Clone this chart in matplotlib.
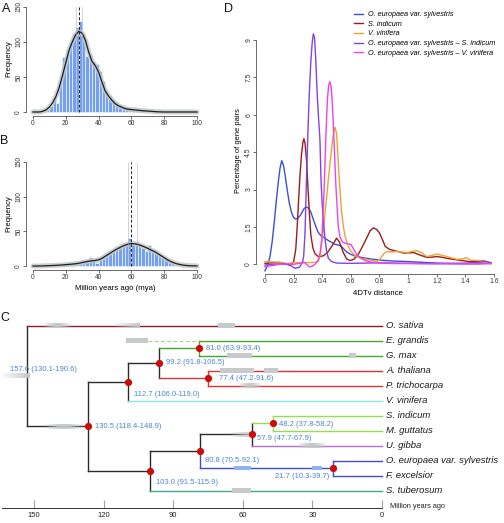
import matplotlib
matplotlib.use("Agg")
import matplotlib.pyplot as plt
import numpy as np
from matplotlib.patches import Rectangle

plt.rcParams.update({
    "font.family": ["Liberation Sans", "DejaVu Sans"],
    "font.size": 5,
    "axes.linewidth": 0.6,
})

# ---------------- data: panels A and B (Ks-based age histograms) ----------------
bin_left = list(range(0, 100, 2))
counts_a = [0, 0, 0, 1, 3, 8, 18, 13, 45, 78,
            88, 100, 111, 121, 130, 112, 80, 82, 72, 68,
            58, 44, 32, 24, 18, 14, 10, 8, 7, 5,
            4, 4, 3, 3, 3, 2, 1, 1, 0, 0,
            0, 0, 0, 0, 0, 0, 0, 0, 0, 0]
counts_b = [0, 0, 0, 0, 1, 1, 1, 2, 2, 3,
            3, 3, 4, 4, 5, 6, 7, 13, 8, 5,
            10, 13, 16, 19, 22, 24, 27, 30, 33, 40,
            33, 35, 30, 26, 21, 30, 22, 19, 16, 13,
            10, 7, 4, 2, 1, 1, 0, 0, 0, 0]
curve_x = list(range(0, 101, 2))
curve_a = [0, 0, 0, 1, 3, 7, 13, 22, 35, 52,
           70, 88, 100, 110, 115, 112, 102, 85, 72, 66,
           57, 43, 30, 23, 17, 12, 9, 7, 5, 4,
           3.5, 3, 2.5, 2, 1.6, 1.3, 1, 0.6, 0.3, 0.1,
           0, 0, 0, 0, 0, 0, 0, 0, 0, 0, 0]
curve_b = [0, 0, 0, 0.2, 0.4, 0.6, 0.8, 1.0, 1.3, 1.6,
           2.0, 2.4, 2.8, 3.3, 4.0, 5.0, 6.0, 7.0, 7.5, 8.0,
           9.0, 11, 14, 17, 20, 23, 25.5, 28, 30, 31.5,
           32.5, 32, 31, 29.5, 27.5, 25.5, 23, 21, 18, 15,
           12, 9, 6.5, 4.5, 3, 2, 1.2, 0.7, 0.4, 0.2, 0.1]
peak_a, ci_a = 27.8, (26.0, 29.7)
peak_b, ci_b = 59.8, (57.7, 63.4)

# ---------------- data: panel D (4DTv distributions) ----------------
d_labels = ["O. europaea var. sylvestris", "S. indicum", "V. vinifera",
            "O. europaea var. sylvestris \u2013 S. indicum",
            "O. europaea var. sylvestris \u2013 V. vinifera"]
d_colors = ["#3a4fd9", "#9e1a1a", "#f2a22e", "#8142e6", "#ec44ec"]
oeu_x = [0, 0.02, 0.035, 0.05, 0.065, 0.08, 0.095, 0.105, 0.117, 0.13,
         0.14, 0.155, 0.17, 0.186, 0.2, 0.215, 0.23, 0.245, 0.26, 0.275,
         0.29, 0.305, 0.32, 0.335, 0.35, 0.37, 0.39, 0.41, 0.43, 0.46,
         0.49, 0.51, 0.53, 0.55, 0.57, 0.6, 0.63, 0.67, 0.71, 0.76,
         0.8, 0.9, 1.0, 1.1, 1.2, 1.3, 1.4, 1.5, 1.55]
oeu_y = [-0.26, 0.0, 0.31, 0.9, 1.7, 2.6, 3.4, 3.85, 4.16, 3.95,
         3.6, 3.0, 2.45, 2.07, 1.88, 1.82, 1.85, 1.95, 2.1, 2.25,
         2.3, 2.25, 2.1, 1.85, 1.6, 1.3, 1.15, 1.08, 1.0, 0.9,
         0.8, 0.78, 0.74, 0.62, 0.5, 0.4, 0.33, 0.28, 0.24, 0.2,
         0.17, 0.13, 0.11, 0.08, 0.05, 0.03, 0.02, 0.02, 0.04]
sind_x = [0, 0.05, 0.1, 0.15, 0.175, 0.2, 0.215, 0.225, 0.235, 0.245,
          0.255, 0.265, 0.272, 0.28, 0.29, 0.3, 0.31, 0.32, 0.335, 0.35,
          0.37, 0.385, 0.41, 0.44, 0.47, 0.5, 0.52, 0.545, 0.57, 0.595,
          0.62, 0.65, 0.68, 0.71, 0.735, 0.757, 0.78, 0.8, 0.82, 0.84,
          0.87, 0.9, 0.94, 0.97, 1.0, 1.04, 1.08, 1.13, 1.17, 1.2,
          1.24, 1.27, 1.34, 1.43, 1.48, 1.53, 1.58]
sind_y = [0.04, 0.06, 0.08, 0.02, -0.03, 0.1, 0.6, 1.5, 2.6, 3.6,
          4.4, 4.9, 5.04, 4.85, 4.2, 3.1, 2.07, 1.2, 0.65, 0.42,
          0.32, 0.31, 0.35, 0.5, 0.75, 1.05, 0.9, 0.5, 0.22, 0.15,
          0.2, 0.38, 0.7, 1.05, 1.35, 1.46, 1.4, 1.26, 1.0, 0.72,
          0.6, 0.55, 0.5, 0.45, 0.46, 0.47, 0.38, 0.28, 0.29, 0.31,
          0.28, 0.24, 0.18, 0.11, 0.12, 0.14, 0.04]
vvin_x = [0, 0.05, 0.1, 0.15, 0.2, 0.25, 0.3, 0.35, 0.373, 0.385,
          0.396, 0.408, 0.42, 0.432, 0.443, 0.455, 0.466, 0.477, 0.489, 0.5,
          0.512, 0.524, 0.536, 0.548, 0.56, 0.577, 0.594, 0.62, 0.64, 0.67,
          0.71, 0.75, 0.78, 0.8, 0.815, 0.835, 0.85, 0.88, 0.92, 0.96,
          0.99, 1.03, 1.06, 1.1, 1.13, 1.17, 1.2, 1.24, 1.27, 1.31,
          1.34, 1.38, 1.41, 1.43, 1.46, 1.5, 1.54, 1.58]
vvin_y = [0.11, 0.1, 0.08, 0.03, 0.06, 0.07, 0.07, 0.08, 0.11, 0.35,
          0.85, 1.4, 2.07, 2.75, 3.42, 4.1, 4.64, 5.2, 5.5, 5.25,
          4.1, 3.0, 2.07, 1.5, 1.12, 0.8, 0.58, 0.4, 0.31, 0.24,
          0.2, 0.15, 0.11, 0.18, 0.31, 0.45, 0.51, 0.5, 0.51, 0.49,
          0.47, 0.52, 0.55, 0.45, 0.31, 0.36, 0.41, 0.36, 0.31, 0.25,
          0.2, 0.22, 0.27, 0.18, 0.16, 0.15, 0.1, 0.04]
oeu_sind_x = [0, 0.05, 0.1, 0.15, 0.18, 0.21, 0.24, 0.26, 0.27, 0.28,
              0.29, 0.3, 0.31, 0.32, 0.33, 0.338, 0.346, 0.355, 0.365, 0.375,
              0.384, 0.392, 0.4, 0.41, 0.42, 0.43, 0.443, 0.466, 0.5, 0.6,
              0.7, 0.8, 0.9, 1.0, 1.1, 1.2, 1.3, 1.4, 1.5, 1.55, 1.58]
oeu_sind_y = [-0.03, 0.0, 0.02, 0.0, -0.05, -0.16, -0.12, 0.05, 0.3, 1.3,
              3.4, 5.3, 6.9, 8.1, 8.9, 9.25, 9.1, 8.2, 6.8, 5.8,
              5.0, 3.3, 2.4, 1.6, 0.99, 0.55, 0.24, 0.11, 0.05, 0.04,
              0.05, 0.06, 0.05, 0.04, 0.04, 0.03, 0.04, 0.05, 0.08, 0.11, 0.06]
oeu_vvin_x = [0, 0.05, 0.1, 0.15, 0.2, 0.25, 0.27, 0.29, 0.31, 0.33,
              0.35, 0.37, 0.385, 0.396, 0.405, 0.413, 0.42, 0.428, 0.436, 0.445,
              0.454, 0.463, 0.471, 0.479, 0.487, 0.495, 0.503, 0.512, 0.524, 0.54,
              0.56, 0.58, 0.6, 0.62, 0.64, 0.67, 0.7, 0.75, 0.8, 0.9,
              1.0, 1.1, 1.2, 1.3, 1.4, 1.5, 1.58]
oeu_vvin_y = [-0.1, -0.05, 0.0, 0.02, 0.0, 0.05, 0.1, 0.0, -0.1, -0.08,
              0.0, 0.15, 0.45, 0.99, 1.9, 3.0, 4.2, 5.5, 6.6, 7.2,
              7.33, 7.1, 6.4, 5.4, 4.3, 3.2, 2.4, 1.5, 1.1, 0.9,
              0.85, 0.82, 0.8, 0.6, 0.4, 0.25, 0.15, 0.08, 0.05, 0.03,
              0.03, 0.02, 0.02, 0.02, 0.02, 0.03, 0.02]

# ---------------- data: panel C (dated species tree) ----------------
tips = ["O. sativa", "E. grandis", "G. max", "A. thaliana", "P. trichocarpa",
        "V. vinifera", "S. indicum", "M. guttatus", "U. gibba",
        "O. europaea var. sylvestris", "F. excelsior", "S. tuberosum"]
node_names = ["root", "n130", "n112", "n99", "n81", "n77",
              "n103", "n80", "n57", "n48", "n21"]
node_age = [157.6, 130.5, 112.7, 99.2, 81.0, 77.4, 103.0, 80.8, 57.9, 48.2, 21.7]
node_lo = [130.1, 118.4, 106.0, 91.8, 63.9, 47.2, 91.5, 70.5, 47.7, 37.8, 10.3]
node_hi = [190.6, 148.9, 119.0, 106.5, 93.4, 91.6, 115.9, 92.1, 67.9, 58.2, 39.7]
children = {
    "root": ["t0", "n130"], "n130": ["n112", "n103"], "n112": ["n99", "t5"],
    "n99": ["n81", "n77"], "n81": ["t1", "t2"], "n77": ["t3", "t4"],
    "n103": ["n80", "t11"], "n80": ["n57", "n21"], "n57": ["n48", "t8"],
    "n48": ["t6", "t7"], "n21": ["t9", "t10"],
}
# gray / blue interval bars drawn on branches: (row, from age, to age, kind)
branch_bars = [
    ("t0", 150.5, 137.6, "fade"), ("t0", 119.4, 107.5, "fadel"), ("t0", 72.8, 65.2, "gray"),
    ("root", 169.6, 156.3, "fadel"), ("n130", 149.6, 132.7, "fade"),
    ("t1", 113.6, 103.9, "gray"),
    ("t2", 68.8, 57.7, "gray"), ("t2", 14.6, 11.5, "gray"),
    ("t3", 71.9, 56.8, "gray"), ("t3", 52.4, 46.1, "gray"),
    ("t4", 63.9, 53.2, "fade"),
    ("n57", 67.5, 57.7, "fadel"), ("t8", 37.7, 24.4, "fade"),
    ("t11", 66.6, 58.1, "gray"),
    ("n21", 65.7, 58.1, "blue"), ("n21", 31.0, 26.6, "blue"),
]
egrandis_dash_from = 103.9

# ---------------- styling ----------------
BLACK = "#2b2b2b"
SATIVA = "#8c1c26"
GREEN = "#45a52c"
RED = "#dc3434"
CYAN = "#86ece2"
TEAL = "#3fa98c"
LGREEN = "#92e04f"
VIOLET = "#b46fd3"
BLUE = "#3b4fcf"
NODE_TXT = "#4a86d8"

edges = [
    ("root", "t0", SATIVA, BLACK), ("root", "n130", BLACK, BLACK),
    ("n130", "n112", BLACK, BLACK), ("n130", "n103", BLACK, BLACK),
    ("n112", "n99", BLACK, BLACK), ("n112", "t5", CYAN, BLACK),
    ("n99", "n81", GREEN, BLACK), ("n99", "n77", RED, BLACK),
    ("n81", "t1", GREEN, GREEN), ("n81", "t2", GREEN, GREEN),
    ("n77", "t3", RED, RED), ("n77", "t4", RED, RED),
    ("n103", "n80", BLACK, BLACK), ("n103", "t11", TEAL, BLACK),
    ("n80", "n57", BLACK, BLACK), ("n80", "n21", BLUE, BLUE),
    ("n57", "n48", LGREEN, BLACK), ("n57", "t8", VIOLET, BLACK),
    ("n48", "t6", LGREEN, LGREEN), ("n48", "t7", LGREEN, LGREEN),
    ("n21", "t9", BLUE, BLUE), ("n21", "t10", BLUE, BLUE),
]
# node label offsets in pixels (dx right, dy down) and alignment
label_off = {"root": (-17, -6, "left"), "n130": (7, 0, "left"), "n112": (6, 13, "left"),
             "n99": (7.5, -1, "left"), "n81": (7, 0, "left"), "n77": (11, 0, "left"),
             "n103": (6, 12, "left"), "n80": (5, 9, "left"), "n57": (5.5, 4, "left"),
             "n48": (6, 1, "left"), "n21": (-4, 8, "right")}

W, H = 504, 523
fig = plt.figure(figsize=(W / 100, H / 100), dpi=100)


def px_axes(x0, y0, x1, y1):
    return fig.add_axes([x0 / W, 1 - y1 / H, (x1 - x0) / W, (y1 - y0) / H])


def r_style(ax, xb, yb, size=4.8):
    for s in ("top", "right"):
        ax.spines[s].set_visible(False)
    ax.spines["bottom"].set_bounds(*xb)
    ax.spines["left"].set_bounds(*yb)
    for s in ("bottom", "left"):
        ax.spines[s].set_linewidth(0.5)
        ax.spines[s].set_color("#333333")
    ax.tick_params(length=2, width=0.5, pad=1, labelsize=size, colors="#333333")
    for lab in ax.get_yticklabels():
        lab.set_rotation(90)
        lab.set_va("center")


def hist_panel(ax, counts, curve, peak, ci):
    ax.bar(bin_left, counts, width=2, align="edge", color="#74a0f3",
           edgecolor="white", linewidth=0.4, zorder=1)
    ax.plot(curve_x, curve, color="#c2c8c8", lw=3.6, alpha=0.85,
            solid_capstyle="round", zorder=2)
    ax.plot(curve_x, curve, color="#1e1e1e", lw=0.9, zorder=3)
    ax.vlines(ci, 0, 150, colors="#9a9a9a", linestyles=(0, (1.2, 1.2)), lw=0.6, zorder=4)
    ax.vlines(peak, 0, 150, colors="#222222", linestyles=(0, (3, 2)), lw=0.7, zorder=4)
    ax.set_xlim(-4, 104)
    ax.set_ylim(-5, 156)
    ax.set_xticks(range(0, 101, 20))
    ax.set_yticks([0, 50, 100, 150])
    ax.set_ylabel("Frequency", fontsize=5.6, labelpad=2)
    r_style(ax, (0, 100), (0, 150))


# Panel A
ax_a = px_axes(26.4, 2.5, 203.6, 115.5)
hist_panel(ax_a, counts_a, curve_a, peak_a, ci_a)
# Panel B
ax_b = px_axes(26.4, 157.8, 203.6, 269.5)
hist_panel(ax_b, counts_b, curve_b, peak_b, ci_b)
ax_b.set_xlabel("Million years ago (mya)", fontsize=5.6, labelpad=3)

# Panel D
ax_d = px_axes(256.4, 27.5, 499.7, 274.3)
series = [(oeu_x, oeu_y), (sind_x, sind_y), (vvin_x, vvin_y),
          (oeu_sind_x, oeu_sind_y), (oeu_vvin_x, oeu_vvin_y)]
for (xs, ys), c, lab in zip(series, d_colors, d_labels):
    ax_d.plot(xs, ys, color=c, lw=1.0, label=lab)
ax_d.set_xlim(-0.06, 1.64)
ax_d.set_ylim(-0.4, 9.5)
ax_d.set_xticks([0, 0.2, 0.4, 0.6, 0.8, 1.0, 1.2, 1.4, 1.6])
ax_d.set_xticklabels(["0", "0.2", "0.4", "0.6", "0.8", "1", "1.2", "1.4", "1.6"])
ax_d.set_yticks([0, 1.5, 3, 4.5, 6, 7.5, 9])
ax_d.set_yticklabels(["0", "1.5", "3", "4.5", "6", "7.5", "9"])
ax_d.set_xlabel("4DTv distance", fontsize=5.6, labelpad=3)
ax_d.set_ylabel("Percentage of gene pairs", fontsize=5.4, labelpad=2)
r_style(ax_d, (0, 1.6), (0, 9), size=4.9)
ax_d.legend(loc="upper left", bbox_to_anchor=(354 / W, 1 - 11 / H),
            bbox_transform=fig.transFigure, frameon=False, borderpad=0,
            borderaxespad=0, handlelength=1.3, handletextpad=0.6,
            labelspacing=0.35, prop={"style": "italic", "size": 5.25})

# Panel C: tree (x in million years, 0 at px 382, 2.252 px per My)
ax_c = px_axes(0, 315, W, 500)
ax_c.set_xlim(381.9 / 2.252, (381.9 - W) / 2.252)
ax_c.set_ylim(11.633, -0.7)
ax_c.axis("off")

age = {"t%d" % i: 0.0 for i in range(len(tips))}
age.update(dict(zip(node_names, node_age)))
ypos = {"t%d" % i: float(i) for i in range(len(tips))}


def node_y(k):
    if k not in ypos:
        ypos[k] = float(np.mean([node_y(c) for c in children[k]]))
    return ypos[k]


node_y("root")

for par, ch, hc, vc in edges:
    ax_c.plot([age[par], age[par]], [ypos[par], ypos[ch]], color=vc, lw=1.0,
              solid_capstyle="projecting", zorder=2)
    ax_c.plot([age[par], age[ch]], [ypos[ch], ypos[ch]], color=hc, lw=1.0,
              solid_capstyle="projecting", zorder=2)

ax_c.plot([egrandis_dash_from, age["n81"]], [ypos["t1"], ypos["t1"]],
          color="#a8d890", lw=0.9, ls=(0, (3, 2)), zorder=2)

bar_h = 0.33
for row, a0, a1, kind in branch_bars:
    y = ypos[row]
    lo, hi = min(a0, a1), max(a0, a1)
    if kind in ("gray", "blue"):
        col = "#c6caca" if kind == "gray" else "#8fb3f2"
        ax_c.add_patch(Rectangle((lo, y - bar_h / 2), hi - lo, bar_h,
                                 facecolor=col, edgecolor="none", zorder=3))
    else:
        n = 10
        edges_x = np.linspace(hi, lo, n + 1)
        for i in range(n):
            t = (i + 0.5) / n
            if kind == "fadel":
                alpha = t
            else:
                alpha = 1 - abs(2 * t - 1) ** 1.5
            ax_c.add_patch(Rectangle((edges_x[i + 1], y - bar_h / 2),
                                     edges_x[i] - edges_x[i + 1], bar_h,
                                     facecolor="#c3c8c8", edgecolor="none",
                                     alpha=max(alpha, 0.05), zorder=3))

for k in node_names[1:]:
    ax_c.plot(age[k], ypos[k], "o", color="#cc0a0a", ms=5.2, mec="none", zorder=5)

for k, a, lo, hi in zip(node_names, node_age, node_lo, node_hi):
    dx, dy, ha = label_off[k]
    ax_c.annotate(f"{a:.1f} ({lo:.1f}-{hi:.1f})", (age[k], ypos[k]),
                  xytext=(dx * 0.72, -dy * 0.72), textcoords="offset points",
                  ha=ha, va="center", fontsize=5.5, color=NODE_TXT, zorder=6)

for i, name in enumerate(tips):
    ax_c.annotate(name, (0, i), xytext=(3, 0), textcoords="offset points",
                  ha="left", va="center", fontsize=6.8, style="italic",
                  color="#1a1a1a")

# time scale
ax_s = px_axes(2, 496, 382, 508)
ax_s.set_xlim((382 - 2) / 2.32, 0)
ax_s.set_ylim(0, 1)
for s in ("top", "right", "left"):
    ax_s.spines[s].set_visible(False)
ax_s.spines["bottom"].set_linewidth(0.7)
ax_s.spines["bottom"].set_color("#333333")
ax_s.set_yticks([])
ax_s.set_xticks([150, 120, 90, 60, 30, 0])
ax_s.tick_params(axis="x", direction="in", length=6, width=0.8, color="#a0a0a0",
                 labelsize=5.5, pad=3, labelcolor="#222222")
ax_s.xaxis.get_major_ticks()[-1].tick1line.set_color("#333333")
ax_s.patch.set_alpha(0)
fig.text(390 / W, 1 - 506 / H, "Million years ago", fontsize=5.3, ha="left",
         va="center", color="#222222")

# panel letters
for lab, x, y in [("A", 2, 3), ("B", 0, 135), ("D", 224, 3), ("C", 0, 312)]:
    fig.text(x / W, 1 - y / H, lab, fontsize=9, ha="left", va="top", color="#111111")

fig.savefig("out.png", dpi=100)
